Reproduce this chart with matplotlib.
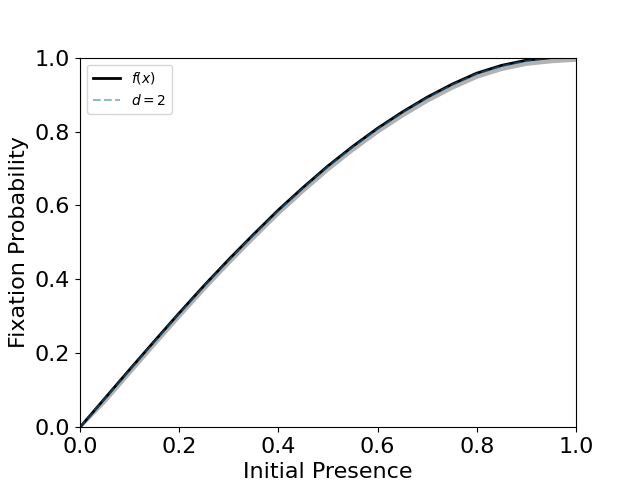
import numpy as np
import matplotlib.pyplot as plt

x = [0.0, 0.05, 0.1, 0.15, 0.2, 0.25, 0.3, 0.35, 0.4, 0.45, 0.5,
     0.55, 0.6, 0.65, 0.7, 0.75, 0.8, 0.85, 0.9, 0.95, 1.0]
f_x = [0.0, 0.078, 0.156, 0.233, 0.309, 0.383, 0.454, 0.522, 0.588, 0.649, 0.707,
       0.760, 0.809, 0.853, 0.893, 0.928, 0.958, 0.979, 0.993, 1.0, 1.0]
d2 = [0.0, 0.077, 0.154, 0.231, 0.307, 0.381, 0.452, 0.520, 0.586, 0.647, 0.705,
      0.758, 0.807, 0.851, 0.891, 0.926, 0.956, 0.977, 0.991, 0.999, 1.0]
d2_low = [-0.004, 0.065, 0.142, 0.219, 0.295, 0.369, 0.440, 0.508, 0.574, 0.635, 0.693,
          0.746, 0.795, 0.839, 0.879, 0.914, 0.944, 0.965, 0.979, 0.986, 0.99]
d2_high = [0.004, 0.083, 0.160, 0.237, 0.313, 0.387, 0.458, 0.526, 0.592, 0.653, 0.711,
           0.764, 0.813, 0.857, 0.897, 0.932, 0.962, 0.983, 0.996, 1.0, 1.0]

fig, ax = plt.subplots(figsize=(6.4, 4.8), dpi=100)
ax.fill_between(x, d2_low, d2_high, color="grey", alpha=0.6, linewidth=0)
ax.plot(x, f_x, color="black", linewidth=2, label="$f(x)$")
ax.plot(x, d2, color="tab:blue", alpha=0.5, linestyle="--", linewidth=1.5, label="$d = 2$")

ax.set_xlim(0, 1)
ax.set_ylim(0, 1)
ax.set_xlabel("Initial Presence", fontsize=16)
ax.set_ylabel("Fixation Probability", fontsize=16)
ax.tick_params(labelsize=16)
ax.legend(loc="upper left")

plt.savefig("out.png")
